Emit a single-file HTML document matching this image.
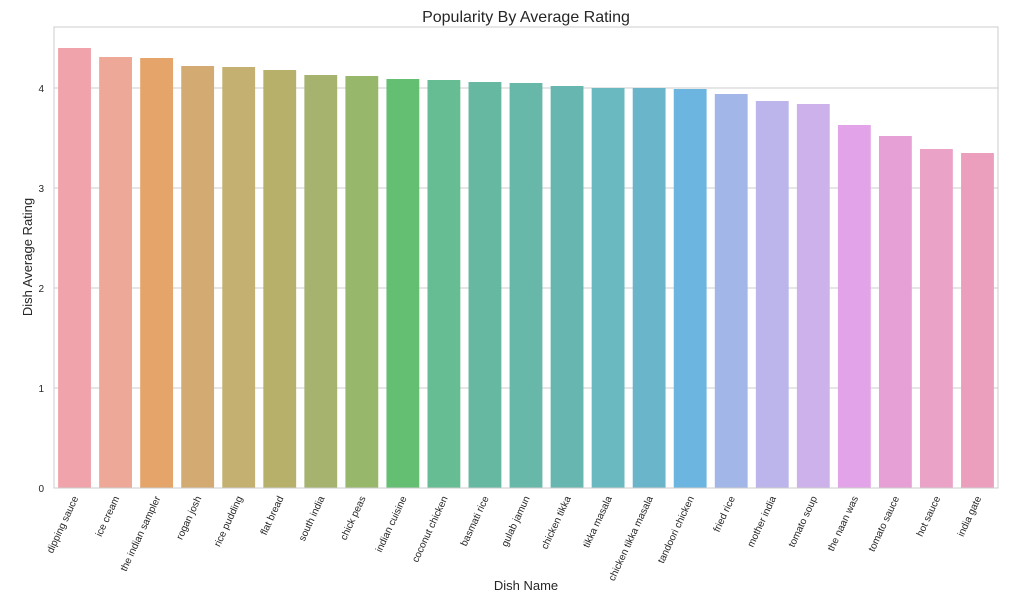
<!DOCTYPE html>
<html><head><meta charset="utf-8"><style>
body{margin:0;background:#fff;}
svg{display:block;font-family:"Liberation Sans",sans-serif;}
</style></head><body>
<svg id="chart" width="1023" height="609" xmlns="http://www.w3.org/2000/svg">
<rect width="1023" height="609" fill="#fff"/>
<text x="526" y="22" text-anchor="middle" font-size="16" fill="#262626">Popularity By Average Rating</text>
<text transform="translate(32,257) rotate(-90)" text-anchor="middle" font-size="13" fill="#262626">Dish Average Rating</text>
<text x="526" y="590" text-anchor="middle" font-size="13" fill="#262626">Dish Name</text>
<g id="grid"></g><g id="bars"></g><g id="xt"></g>
<rect x="54" y="27" width="944" height="461" fill="none" stroke="#cccccc" stroke-width="1"/>
</svg>
<script>
const categories=["dipping sauce","ice cream","the indian sampler","rogan josh","rice pudding","flat bread","south india","chick peas","indian cuisine","coconut chicken","basmati rice","gulab jamun","chicken tikka","tikka masala","chicken tikka masala","tandoori chicken","fried rice","mother india","tomato soup","the naan was","tomato sauce","hot sauce","india gate"];
const values=[4.40,4.31,4.30,4.22,4.21,4.18,4.13,4.12,4.09,4.08,4.06,4.05,4.02,4.00,4.00,3.99,3.94,3.87,3.84,3.63,3.52,3.39,3.35];
const yTicks=[0,1,2,3,4];
const colors=["#f0a3aa","#eea897","#e4a46a","#d3aa72","#c4b070","#b6b06a","#a5b36e","#97b76b","#65bf73","#66bd93","#66b9a0","#67b8a8","#67b6b0","#6ab8c0","#6bb5cb","#6cb5e0","#a2b6e8","#bbb5ec","#cdb1eb","#e3a3e8","#e7a0d5","#eaa2c6","#ec9fbd"];
const NS="http://www.w3.org/2000/svg";
const L=54,R=998,T=27,B=488,ymax=4.61;
const y=v=>B-(v/ymax)*(B-T);
const step=(R-L)/categories.length;
const x=i=>L+step*(i+0.5);
const g=document.getElementById('grid'),bg=document.getElementById('bars'),xt=document.getElementById('xt');
yTicks.forEach(t=>{
 const l=document.createElementNS(NS,'line');
 
 
 l.setAttribute('x1',L);l.setAttribute('x2',R);l.setAttribute('y1',y(t));l.setAttribute('y2',y(t));
 l.setAttribute('stroke','#cccccc');g.appendChild(l);
 const tx=document.createElementNS(NS,'text');
 
 
 tx.setAttribute('x',L-10);tx.setAttribute('y',y(t)+4);tx.setAttribute('text-anchor','end');
 tx.setAttribute('font-size','10');tx.setAttribute('fill','#262626');tx.textContent=t;g.appendChild(tx);
});
categories.forEach((c,i)=>{
 const w=step*0.8;
 const r=document.createElementNS(NS,'rect');
 
 
 r.setAttribute('x',x(i)-w/2);r.setAttribute('width',w);
 r.setAttribute('y',y(values[i]));r.setAttribute('height',B-y(values[i]));
 r.setAttribute('fill',colors[i]);bg.appendChild(r);
 const tx=document.createElementNS(NS,'text');
 
 
 tx.setAttribute('text-anchor','end');tx.setAttribute('font-size','10');tx.setAttribute('fill','#262626');
 tx.setAttribute('transform','translate('+(x(i)+4)+','+(B+10)+') rotate(-65)');
 tx.textContent=c;xt.appendChild(tx);
});
</script>
</body></html>
